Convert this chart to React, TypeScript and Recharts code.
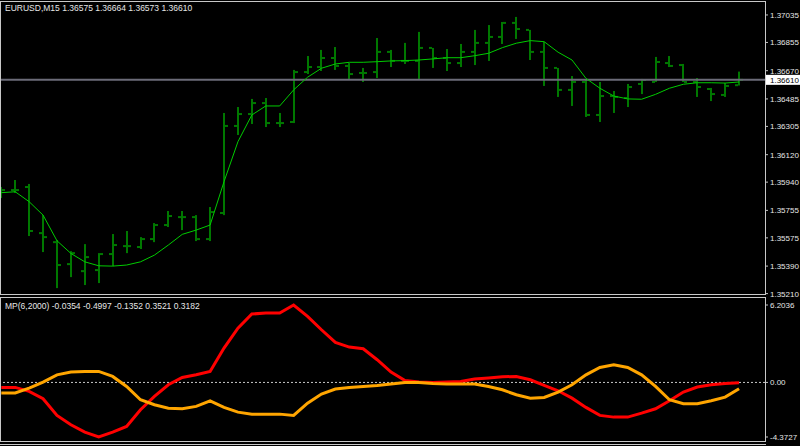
import { ComposedChart, Bar, Line, XAxis, YAxis, ReferenceLine } from 'recharts';

const opens = [1.35888, 1.35888, 1.35908, 1.35606, 1.35547, 1.35403, 1.35357, 1.35364, 1.35469, 1.35521, 1.35515, 1.35567, 1.35659, 1.35711, 1.35711, 1.35567, 1.35738, 1.36308, 1.36386, 1.36458, 1.36327, 1.36334, 1.36661, 1.36694, 1.36753, 1.36701, 1.36655, 1.36661, 1.36793, 1.36734, 1.36734, 1.36819, 1.36753, 1.36720, 1.36793, 1.36852, 1.36891, 1.36983, 1.36937, 1.36793, 1.36688, 1.36544, 1.36596, 1.36380, 1.36504, 1.36491, 1.36583, 1.36596, 1.36720, 1.36707, 1.36596, 1.36550, 1.36511, 1.36575];
const highs = [1.35908, 1.35954, 1.35928, 1.35724, 1.35561, 1.35488, 1.35534, 1.35475, 1.35600, 1.35620, 1.35580, 1.35672, 1.35751, 1.35751, 1.35724, 1.35777, 1.36393, 1.36432, 1.36485, 1.36491, 1.36393, 1.36675, 1.36766, 1.36806, 1.36825, 1.36720, 1.36688, 1.36884, 1.36806, 1.36852, 1.36924, 1.36819, 1.36812, 1.36845, 1.36937, 1.36969, 1.36989, 1.37022, 1.36937, 1.36858, 1.36688, 1.36635, 1.36609, 1.36596, 1.36537, 1.36583, 1.36616, 1.36760, 1.36766, 1.36714, 1.36622, 1.36557, 1.36589, 1.36664];
const lows = [1.35836, 1.35869, 1.35587, 1.35482, 1.35246, 1.35318, 1.35266, 1.35279, 1.35390, 1.35475, 1.35502, 1.35547, 1.35646, 1.35626, 1.35554, 1.35554, 1.35724, 1.36249, 1.36321, 1.36301, 1.36301, 1.36327, 1.36648, 1.36668, 1.36675, 1.36616, 1.36596, 1.36622, 1.36694, 1.36714, 1.36616, 1.36688, 1.36668, 1.36694, 1.36707, 1.36734, 1.36845, 1.36878, 1.36740, 1.36570, 1.36498, 1.36439, 1.36367, 1.36334, 1.36393, 1.36432, 1.36517, 1.36596, 1.36694, 1.36596, 1.36498, 1.36471, 1.36498, 1.36573];
const closes = [1.35888, 1.35888, 1.35620, 1.35580, 1.35397, 1.35475, 1.35449, 1.35469, 1.35528, 1.35521, 1.35567, 1.35659, 1.35718, 1.35711, 1.35567, 1.35744, 1.36308, 1.36386, 1.36458, 1.36327, 1.36327, 1.36661, 1.36694, 1.36753, 1.36701, 1.36648, 1.36655, 1.36793, 1.36734, 1.36734, 1.36819, 1.36753, 1.36720, 1.36793, 1.36852, 1.36891, 1.36983, 1.36943, 1.36793, 1.36688, 1.36544, 1.36596, 1.36380, 1.36504, 1.36498, 1.36563, 1.36609, 1.36727, 1.36701, 1.36596, 1.36563, 1.36517, 1.36570, 1.36610];
const maValues = [1.35871, 1.35877, 1.35812, 1.35724, 1.35556, 1.35473, 1.35418, 1.35392, 1.35390, 1.35397, 1.35418, 1.35462, 1.35528, 1.35598, 1.35626, 1.35659, 1.35943, 1.36205, 1.36380, 1.36439, 1.36439, 1.36544, 1.36627, 1.36686, 1.36714, 1.36725, 1.36725, 1.36729, 1.36734, 1.36736, 1.36740, 1.36747, 1.36755, 1.36755, 1.36768, 1.36784, 1.36821, 1.36850, 1.36867, 1.36860, 1.36791, 1.36740, 1.36620, 1.36555, 1.36504, 1.36485, 1.36483, 1.36515, 1.36555, 1.36581, 1.36591, 1.36591, 1.36589, 1.36596];

const mpRed = [-0.40, -0.40, -0.72, -1.31, -2.64, -3.39, -3.98, -4.3727, -3.98, -3.53, -2.19, -1.12, -0.19, 0.40, 0.61, 0.88, 2.75, 4.35, 5.48, 5.56, 5.56, 6.2036, 5.29, 4.22, 3.21, 2.83, 2.70, 1.82, 0.83, 0.16, 0.03, 0.00, 0.03, 0.08, 0.27, 0.35, 0.45, 0.48, 0.21, -0.24, -0.67, -1.26, -2.00, -2.64, -2.78, -2.78, -2.46, -2.11, -1.47, -0.77, -0.37, -0.19, -0.08, -0.0354];
const mpOrange = [-0.85, -0.85, -0.45, 0.03, 0.61, 0.83, 0.88, 0.88, 0.48, -0.32, -1.39, -1.79, -2.06, -2.11, -1.92, -1.47, -2.00, -2.38, -2.54, -2.54, -2.54, -2.64, -1.66, -0.93, -0.53, -0.40, -0.32, -0.24, -0.13, 0.00, 0.00, -0.08, -0.13, -0.13, -0.13, -0.32, -0.59, -0.99, -1.26, -1.20, -0.77, -0.19, 0.61, 1.20, 1.42, 1.20, 0.61, -0.32, -1.39, -1.71, -1.71, -1.47, -1.18, -0.4997];

const priceTicks = [1.37035, 1.36855, 1.36670, 1.36485, 1.36305, 1.36120, 1.35940, 1.35755, 1.35575, 1.35390, 1.35210];
const mpTicks = [6.2036, 0, -4.3727];
const mpTickLabels = ['6.2036', '0.00', '-4.3727'];
const lastPrice = 1.36610;
const priceTitle = 'EURUSD,M15  1.36575 1.36664 1.36573 1.36610';
const mpTitle = 'MP(6,2000) -0.0354 -0.4997 -0.1352 0.3521 0.3182';

const rows = opens.map((open, i) => ({
  i,
  open,
  high: highs[i],
  low: lows[i],
  close: closes[i],
  ma: maValues[i],
  red: mpRed[i],
  orange: mpOrange[i],
}));

const FONT = '"Liberation Sans", Arial, sans-serif';
const xDomain: [number, number] = [-0.0934, 54.864];

const OhlcBar = (props: any) => {
  const { x, y, width, height, payload } = props;
  const cx = Math.round(x + width / 2);
  const h = Math.abs(height);
  const span = payload.high - payload.low;
  const yOpen = span ? y + ((payload.high - payload.open) / span) * h : y;
  const yClose = span ? y + ((payload.high - payload.close) / span) * h : y;
  return (
    <g fill="#007800">
      <rect x={cx - 1} y={y} width={2} height={Math.max(h, 1)} />
      <rect x={cx - 4} y={yOpen - 1} width={3} height={2} />
      <rect x={cx + 1} y={yClose - 1} width={3} height={2} />
    </g>
  );
};

const PriceTick = (props: any) => {
  const { y, payload } = props;
  return (
    <g>
      <line x1={765} x2={768} y1={y} y2={y} stroke="#c0c0c0" />
      <text x={770} y={y + 3} fill="#e6e6e6" fontSize={8} fontFamily={FONT}>
        {payload.value.toFixed(5)}
      </text>
    </g>
  );
};

const MpTick = (props: any) => {
  const { y, payload } = props;
  const idx = mpTicks.indexOf(payload.value);
  return (
    <g>
      <line x1={765} x2={768} y1={y} y2={y} stroke="#c0c0c0" />
      <text x={770} y={y + 3} fill="#e6e6e6" fontSize={8} fontFamily={FONT}>
        {mpTickLabels[idx]}
      </text>
    </g>
  );
};

const LastPriceLabel = (props: any) => {
  const { viewBox } = props;
  const x = viewBox.x + viewBox.width;
  const y = viewBox.y;
  return (
    <g>
      <rect x={x + 1} y={y - 5} width={34} height={10} fill="#ffffff" />
      <text x={x + 5} y={y + 3} fill="#000000" fontSize={8} fontFamily={FONT}>
        {lastPrice.toFixed(5)}
      </text>
    </g>
  );
};

export default function App() {
  return (
    <div style={{ position: 'absolute', left: 0, top: 0, width: 800, height: 446, background: '#000', overflow: 'hidden' }}>
      <div style={{ position: 'absolute', left: 0, top: 0 }}>
        <ComposedChart width={800} height={300} data={rows} margin={{ top: 0, right: 0, bottom: 0, left: 0 }}>
          <XAxis dataKey="i" type="number" domain={xDomain} allowDataOverflow hide />
          <YAxis
            orientation="right"
            width={35}
            domain={[1.35168, 1.37133]}
            allowDataOverflow
            ticks={priceTicks}
            interval={0}
            tick={<PriceTick />}
            tickLine={false}
            axisLine={false}
          />
          <ReferenceLine y={lastPrice} stroke="#6b6b78" strokeWidth={2} label={<LastPriceLabel />} />
          <Bar dataKey={(d: any) => [d.low, d.high]} barSize={8} shape={<OhlcBar />} isAnimationActive={false} />
          <Line type="linear" dataKey="ma" stroke="#00cc00" strokeWidth={1} dot={false} activeDot={false} isAnimationActive={false} />
        </ComposedChart>
      </div>
      <div style={{ position: 'absolute', left: 0, top: 297 }}>
        <ComposedChart width={800} height={146} data={rows} margin={{ top: 0, right: 0, bottom: 0, left: 0 }}>
          <XAxis dataKey="i" type="number" domain={xDomain} allowDataOverflow hide />
          <YAxis
            orientation="right"
            width={35}
            domain={[-4.8535, 6.8446]}
            allowDataOverflow
            ticks={mpTicks}
            interval={0}
            tick={<MpTick />}
            tickLine={false}
            axisLine={false}
          />
          <ReferenceLine y={0} stroke="#c8c8c8" strokeDasharray="2 2" />
          <Line type="linear" dataKey="red" stroke="#ff0000" strokeWidth={3} dot={false} activeDot={false} isAnimationActive={false} />
          <Line type="linear" dataKey="orange" stroke="#ffa500" strokeWidth={3} dot={false} activeDot={false} isAnimationActive={false} />
        </ComposedChart>
      </div>
      <svg width={800} height={446} style={{ position: 'absolute', left: 0, top: 0, pointerEvents: 'none' }}>
        <rect x={0.5} y={1.5} width={765} height={293} fill="none" stroke="#c8c8c8" />
        <rect x={0.5} y={297.5} width={765} height={144} fill="none" stroke="#c8c8c8" />
        <line x1={0} x2={766} y1={444.5} y2={444.5} stroke="#c8c8c8" />
        <text x={5} y={10.5} fill="#e6e6e6" fontSize={8.5} fontFamily={FONT}>{priceTitle}</text>
        <text x={5} y={309} fill="#e6e6e6" fontSize={8.5} fontFamily={FONT}>{mpTitle}</text>
      </svg>
    </div>
  );
}
